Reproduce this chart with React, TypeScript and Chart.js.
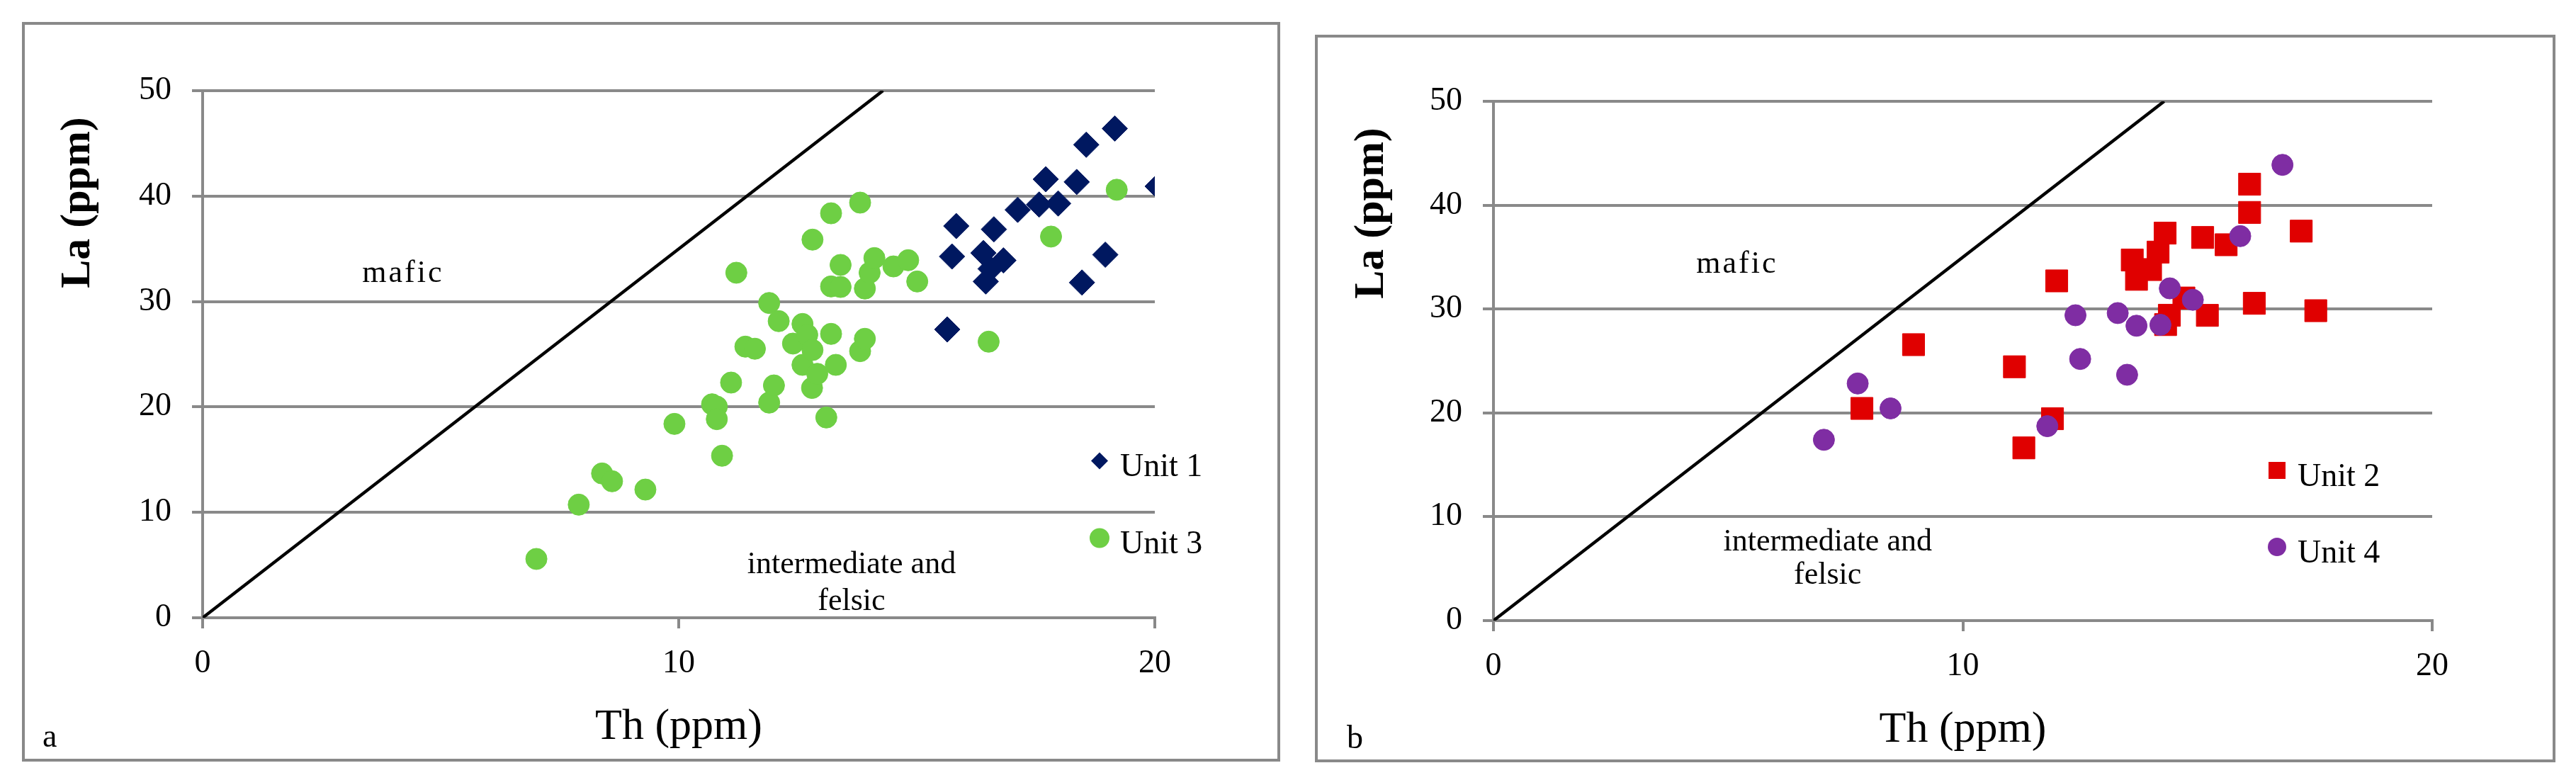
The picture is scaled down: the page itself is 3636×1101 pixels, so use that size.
import React, { useEffect, useRef } from 'react';
import { Chart, registerables } from 'chart.js';

Chart.register(...registerables);

// ---------------- data ----------------
const xTitle = 'Th (ppm)';
const yTitle = 'La (ppm)';
const xTicks = [0, 10, 20];
const yTicks = [0, 10, 20, 30, 40, 50];

// dividing line mafic / intermediate-felsic
const divideTh = [0, 14.29];
const divideLa = [0, 50];

// panel a
const unit1Th = [15.64, 15.74, 15.83, 16.40, 16.45, 16.55, 16.62, 16.82, 17.12, 17.57, 17.71, 17.97, 18.36, 18.47, 18.56, 18.96, 19.16, 20.06];
const unit1La = [27.35, 34.27, 37.16, 34.60, 31.90, 33.10, 36.85, 33.90, 38.70, 39.20, 41.60, 39.30, 41.34, 31.80, 44.87, 34.44, 46.41, 40.93];

const unit3Th = [7.01, 7.90, 8.39, 8.60, 9.30, 9.91, 10.70, 10.80, 10.80, 10.91, 11.10, 11.21, 11.40, 11.60, 11.90, 11.90, 12.00, 12.10, 12.40, 12.60, 12.60, 12.70, 12.80, 12.81, 12.81, 12.91, 13.10, 13.20, 13.20, 13.20, 13.30, 13.40, 13.40, 13.81, 13.81, 13.91, 13.91, 14.01, 14.11, 14.51, 14.82, 15.01, 16.51, 17.82, 19.20];
const unit3La = [5.58, 10.73, 13.69, 12.95, 12.16, 18.39, 20.25, 20.03, 18.84, 15.37, 22.31, 32.73, 25.72, 25.52, 29.86, 20.41, 22.04, 28.14, 26.01, 27.87, 23.99, 26.84, 21.80, 35.87, 25.40, 23.14, 19.00, 38.37, 31.43, 26.93, 23.99, 33.47, 31.38, 39.38, 25.29, 31.23, 26.46, 32.73, 34.12, 33.33, 33.92, 31.90, 26.19, 36.16, 40.60];

// panel b
const unit2Th = [7.85, 8.95, 11.10, 11.30, 11.91, 12.00, 13.61, 13.70, 14.00, 14.16, 14.31, 14.32, 14.40, 14.71, 15.11, 15.21, 15.61, 16.11, 16.11, 16.21, 17.21, 17.52];
const unit2La = [20.43, 26.57, 24.44, 16.63, 19.44, 32.71, 34.72, 32.86, 33.80, 35.48, 37.31, 28.50, 29.40, 31.06, 36.89, 29.39, 36.19, 42.02, 39.30, 30.55, 37.50, 29.84];

const unit4Th = [7.04, 7.76, 8.46, 11.80, 12.40, 12.50, 13.30, 13.50, 13.70, 14.21, 14.41, 14.90, 15.91, 16.81];
const unit4La = [17.41, 22.83, 20.43, 18.72, 29.40, 25.19, 29.61, 23.67, 28.39, 28.48, 31.99, 30.89, 37.02, 43.88];

// ---------------- styles / layout ----------------
const FONT = '"Liberation Serif", "Times New Roman", serif';
const GRAY = '#898989';
const NAVY = '#001860';
const GREEN = '#6ECF44';
const RED = '#E00000';
const PURPLE = '#7F2DA3';

const zip = (xs: number[], ys: number[]) => xs.map((x, i) => ({ x, y: ys[i] }));

type Series = { label: string; th: number[]; la: number[]; color: string; style: string; radius: number; legendSize: number };

type PanelCfg = {
  left: number; top: number; w: number; h: number;
  padTop: number; padRight: number; yWidth: number; xHeight: number;
  series: Series[];
  legendPos: { x: number; y: number }[];
  mafic: { x: number; y: number };
  felsic: { x: number; y: number; gap: number };
  letter: string; letterPos: { x: number; y: number };
  yTitleDx: number;
};

const panels: PanelCfg[] = [
  {
    left: 31, top: 31, w: 1776, h: 1044,
    padTop: 97, padRight: 177, yWidth: 255, xHeight: 203,
    series: [
      { label: 'Unit 1', th: unit1Th, la: unit1La, color: NAVY, style: 'rectRot', radius: 18, legendSize: 12 },
      { label: 'Unit 3', th: unit3Th, la: unit3La, color: GREEN, style: 'circle', radius: 15, legendSize: 14 },
    ],
    legendPos: [{ x: 1266, y: 522.5 }, { x: 1266, y: 631.5 }],
    mafic: { x: 4.21, y: 31.85 },
    felsic: { x: 13.63, y: 4.23, gap: 52 },
    letter: 'a', letterPos: { x: 29, y: 1023 },
    yTitleDx: -160,
  },
  {
    left: 1856, top: 49, w: 1751, h: 1027,
    padTop: 94, padRight: 174, yWidth: 252, xHeight: 200,
    series: [
      { label: 'Unit 2', th: unit2Th, la: unit2La, color: RED, style: 'rect', radius: 22, legendSize: 24 },
      { label: 'Unit 4', th: unit4Th, la: unit4La, color: PURPLE, style: 'circle', radius: 15, legendSize: 13 },
    ],
    legendPos: [{ x: 1106, y: 521 }, { x: 1106, y: 629 }],
    mafic: { x: 5.19, y: 33.5 },
    felsic: { x: 7.12, y: 6.75, gap: 47 },
    letter: 'b', letterPos: { x: 45, y: 1007 },
    yTitleDx: -156,
  },
];

function drawMarker(ctx: CanvasRenderingContext2D, style: string, x: number, y: number, s: number, color: string) {
  ctx.fillStyle = color;
  ctx.beginPath();
  if (style === 'circle') {
    ctx.arc(x, y, s, 0, Math.PI * 2);
  } else if (style === 'rectRot') {
    ctx.moveTo(x - s, y);
    ctx.lineTo(x, y - s);
    ctx.lineTo(x + s, y);
    ctx.lineTo(x, y + s);
    ctx.closePath();
  } else {
    ctx.rect(x - s / 2, y - s / 2, s, s);
  }
  ctx.fill();
}

function Panel({ cfg }: { cfg: PanelCfg }) {
  const ref = useRef<HTMLCanvasElement>(null);

  useEffect(() => {
    const decor = {
      id: 'decor',
      afterDraw(chart: any) {
        const ctx: CanvasRenderingContext2D = chart.ctx;
        const ca = chart.chartArea;
        const xs = chart.scales.x;
        const ys = chart.scales.y;
        ctx.save();
        // frame
        ctx.strokeStyle = GRAY;
        ctx.lineWidth = 4;
        ctx.strokeRect(2, 2, chart.width - 4, chart.height - 4);

        ctx.fillStyle = '#000';
        ctx.textBaseline = 'alphabetic';

        // x title
        ctx.textAlign = 'center';
        ctx.font = `62px ${FONT}`;
        ctx.fillText(xTitle, (ca.left + ca.right) / 2, ca.bottom + 171);

        // y title
        ctx.save();
        ctx.translate(ca.left + cfg.yTitleDx, ca.top + 158);
        ctx.rotate(-Math.PI / 2);
        ctx.font = `bold 60px ${FONT}`;
        ctx.textAlign = 'center';
        ctx.fillText(yTitle, 0, 0);
        ctx.restore();

        // region labels
        ctx.textAlign = 'center';
        ctx.font = `44px ${FONT}`;
        (ctx as any).letterSpacing = '3px';
        ctx.fillText('mafic', xs.getPixelForValue(cfg.mafic.x), ys.getPixelForValue(cfg.mafic.y));
        (ctx as any).letterSpacing = '0px';
        const fx = xs.getPixelForValue(cfg.felsic.x);
        const fy = ys.getPixelForValue(cfg.felsic.y);
        ctx.fillText('intermediate and', fx, fy);
        ctx.fillText('felsic', fx, fy + cfg.felsic.gap);

        // legend
        cfg.series.forEach((s, i) => {
          const p = cfg.legendPos[i];
          const mx = ca.left + p.x;
          const my = ca.top + p.y;
          drawMarker(ctx, s.style, mx, my, s.legendSize, s.color);
          ctx.fillStyle = '#000';
          ctx.textAlign = 'left';
          ctx.font = `46px ${FONT}`;
          ctx.fillText(s.label, mx + 29, my + 21.5);
        });

        // panel letter
        ctx.textAlign = 'left';
        ctx.font = `46px ${FONT}`;
        ctx.fillText(cfg.letter, cfg.letterPos.x, cfg.letterPos.y);
        ctx.restore();
      },
    };

    const datasets: any[] = [
      {
        label: 'divide',
        data: zip(divideTh, divideLa),
        showLine: true,
        borderColor: '#000',
        borderWidth: 4.5,
        pointRadius: 0,
        fill: false,
        order: 3,
      },
    ];
    const n = cfg.series.length;
    cfg.series.forEach((s, i) => {
      datasets.push({
        label: s.label,
        data: zip(s.th, s.la),
        pointStyle: s.style,
        pointRadius: s.radius,
        backgroundColor: s.color,
        borderColor: s.color,
        borderWidth: 1,
        showLine: false,
        order: n - i,
      });
    });

    const tickFont = { family: FONT, size: 46 };
    const chart = new Chart(ref.current as HTMLCanvasElement, {
      type: 'scatter',
      data: { datasets },
      options: {
        animation: false,
        responsive: false,
        maintainAspectRatio: false,
        events: [],
        layout: { padding: { top: cfg.padTop, right: cfg.padRight, bottom: 0, left: 0 } },
        plugins: { legend: { display: false }, tooltip: { enabled: false } },
        scales: {
          x: {
            type: 'linear',
            position: 'bottom',
            min: 0,
            max: 20,
            afterFit: (s: any) => { s.height = cfg.xHeight; },
            afterBuildTicks: (s: any) => { s.ticks = xTicks.map((v) => ({ value: v })); },
            ticks: { stepSize: 10, padding: 22, color: '#000', font: tickFont, maxRotation: 0 },
            grid: { drawOnChartArea: false, drawTicks: true, tickLength: 15, color: GRAY, lineWidth: 4, tickColor: GRAY, tickWidth: 4 },
            border: { display: true, color: GRAY, width: 4 },
          },
          y: {
            type: 'linear',
            position: 'left',
            min: 0,
            max: 50,
            afterFit: (s: any) => { s.width = cfg.yWidth; },
            afterBuildTicks: (s: any) => { s.ticks = yTicks.map((v) => ({ value: v })); },
            ticks: { stepSize: 10, padding: 29, color: '#000', font: tickFont },
            grid: { drawOnChartArea: true, drawTicks: true, tickLength: 15, color: GRAY, lineWidth: 4, tickColor: GRAY, tickWidth: 4 },
            border: { display: true, color: GRAY, width: 4 },
          },
        },
      } as any,
      plugins: [decor],
    });
    return () => chart.destroy();
  }, [cfg]);

  return (
    <canvas
      ref={ref}
      width={cfg.w}
      height={cfg.h}
      style={{ position: 'absolute', left: cfg.left, top: cfg.top, width: cfg.w, height: cfg.h }}
    />
  );
}

export default function App() {
  return (
    <div style={{ position: 'absolute', left: 0, top: 0, width: 3636, height: 1101, background: '#fff', overflow: 'hidden' }}>
      {panels.map((p, i) => (
        <Panel key={i} cfg={p} />
      ))}
    </div>
  );
}
